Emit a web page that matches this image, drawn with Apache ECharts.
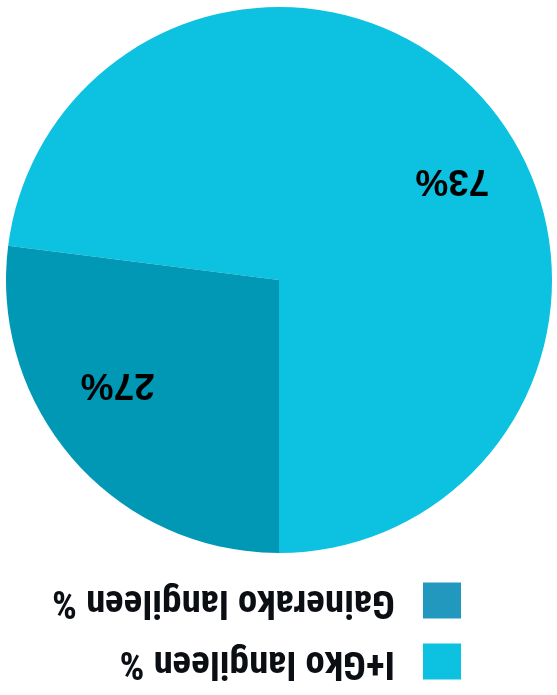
<!DOCTYPE html>
<html>
<head>
<meta charset="utf-8">
<script src="https://cdn.jsdelivr.net/npm/echarts@6/dist/echarts.min.js"></script>
<style>
  html, body { margin: 0; padding: 0; background: #ffffff; }
  #chart { width: 557px; height: 695px; transform: rotate(180deg); transform-origin: 50% 50%; }
</style>
</head>
<body>
<div id="chart"></div>
<script>
const categories = ['I+Gko langileen %', 'Gainerako langileen %'];
const values = [73, 27];
const sliceColors = ['#0DC1E0', '#0098B4'];
const legendColors = ['#0DC1E0', '#2298BF'];

// pick the narrowest installed condensed face for the legend, and size it to the reference width
function pickLegendFont() {
  const ctx = document.createElement('canvas').getContext('2d');
  const sample = 'Gainerako langileen %';
  const candidates = ['Liberation Sans Narrow', 'Noto Sans ExtraCondensed', 'Noto Sans Condensed',
    'Roboto Condensed', 'Open Sans Condensed', 'Arial Narrow', 'DejaVu Sans Condensed', 'Liberation Sans'];
  const probe = (fam, fb) => { ctx.font = 'bold 40px "' + fam + '", ' + fb; return ctx.measureText(sample).width; };
  let best = null;
  candidates.forEach(f => {
    const a = probe(f, 'monospace'), b = probe(f, 'serif');
    if (Math.abs(a - b) < 0.5) { if (!best || a < best.w) best = { f: f, w: a }; }
  });
  if (!best) best = { f: 'sans-serif', w: probe('sans-serif', 'sans-serif') };
  const size = Math.min(41, 40 * 343 / best.w);
  return { family: '"' + best.f + '", sans-serif', size: Math.round(size * 10) / 10 };
}
const legendFont = pickLegendFont();

const pieData = categories.map((name, i) => ({
  name: name,
  value: values[i],
  itemStyle: { color: sliceColors[i] }
}));

const chart = echarts.init(document.getElementById('chart'), null, { renderer: 'canvas' });
chart.setOption({
  backgroundColor: '#ffffff',
  animation: false,
  legend: {
    orient: 'vertical',
    left: 96,
    top: 14,
    padding: 0,
    itemWidth: 38,
    itemHeight: 36,
    itemGap: 22,
    icon: 'rect',
    data: categories.map((name, i) => ({ name: name, itemStyle: { color: legendColors[i] } })),
    textStyle: {
      fontFamily: legendFont.family,
      fontWeight: 'bold',
      fontSize: legendFont.size,
      lineHeight: 36,
      color: '#0b0f14',
      padding: [0, 0, 0, 23]
    }
  },
  series: [
    {
      type: 'pie',
      center: [278, 415],
      radius: [0, 273],
      startAngle: 90,
      clockwise: false,
      data: pieData,
      label: { show: false },
      labelLine: { show: false },
      emphasis: { disabled: true },
      itemStyle: { borderWidth: 0 }
    },
    {
      type: 'pie',
      center: [272, 413],
      radius: [113, 273],
      startAngle: 80,
      clockwise: false,
      silent: true,
      data: categories.map((name, i) => ({ name: name, value: values[i] })),
      itemStyle: { color: 'rgba(0,0,0,0)', borderWidth: 0 },
      emphasis: { disabled: true },
      labelLine: { show: false },
      label: {
        show: true,
        position: 'inside',
        formatter: '{c}%',
        fontFamily: '"Liberation Sans", Arial, sans-serif',
        fontWeight: 'bold',
        fontSize: 37,
        color: '#000000'
      }
    }
  ]
});
</script>
</body>
</html>
